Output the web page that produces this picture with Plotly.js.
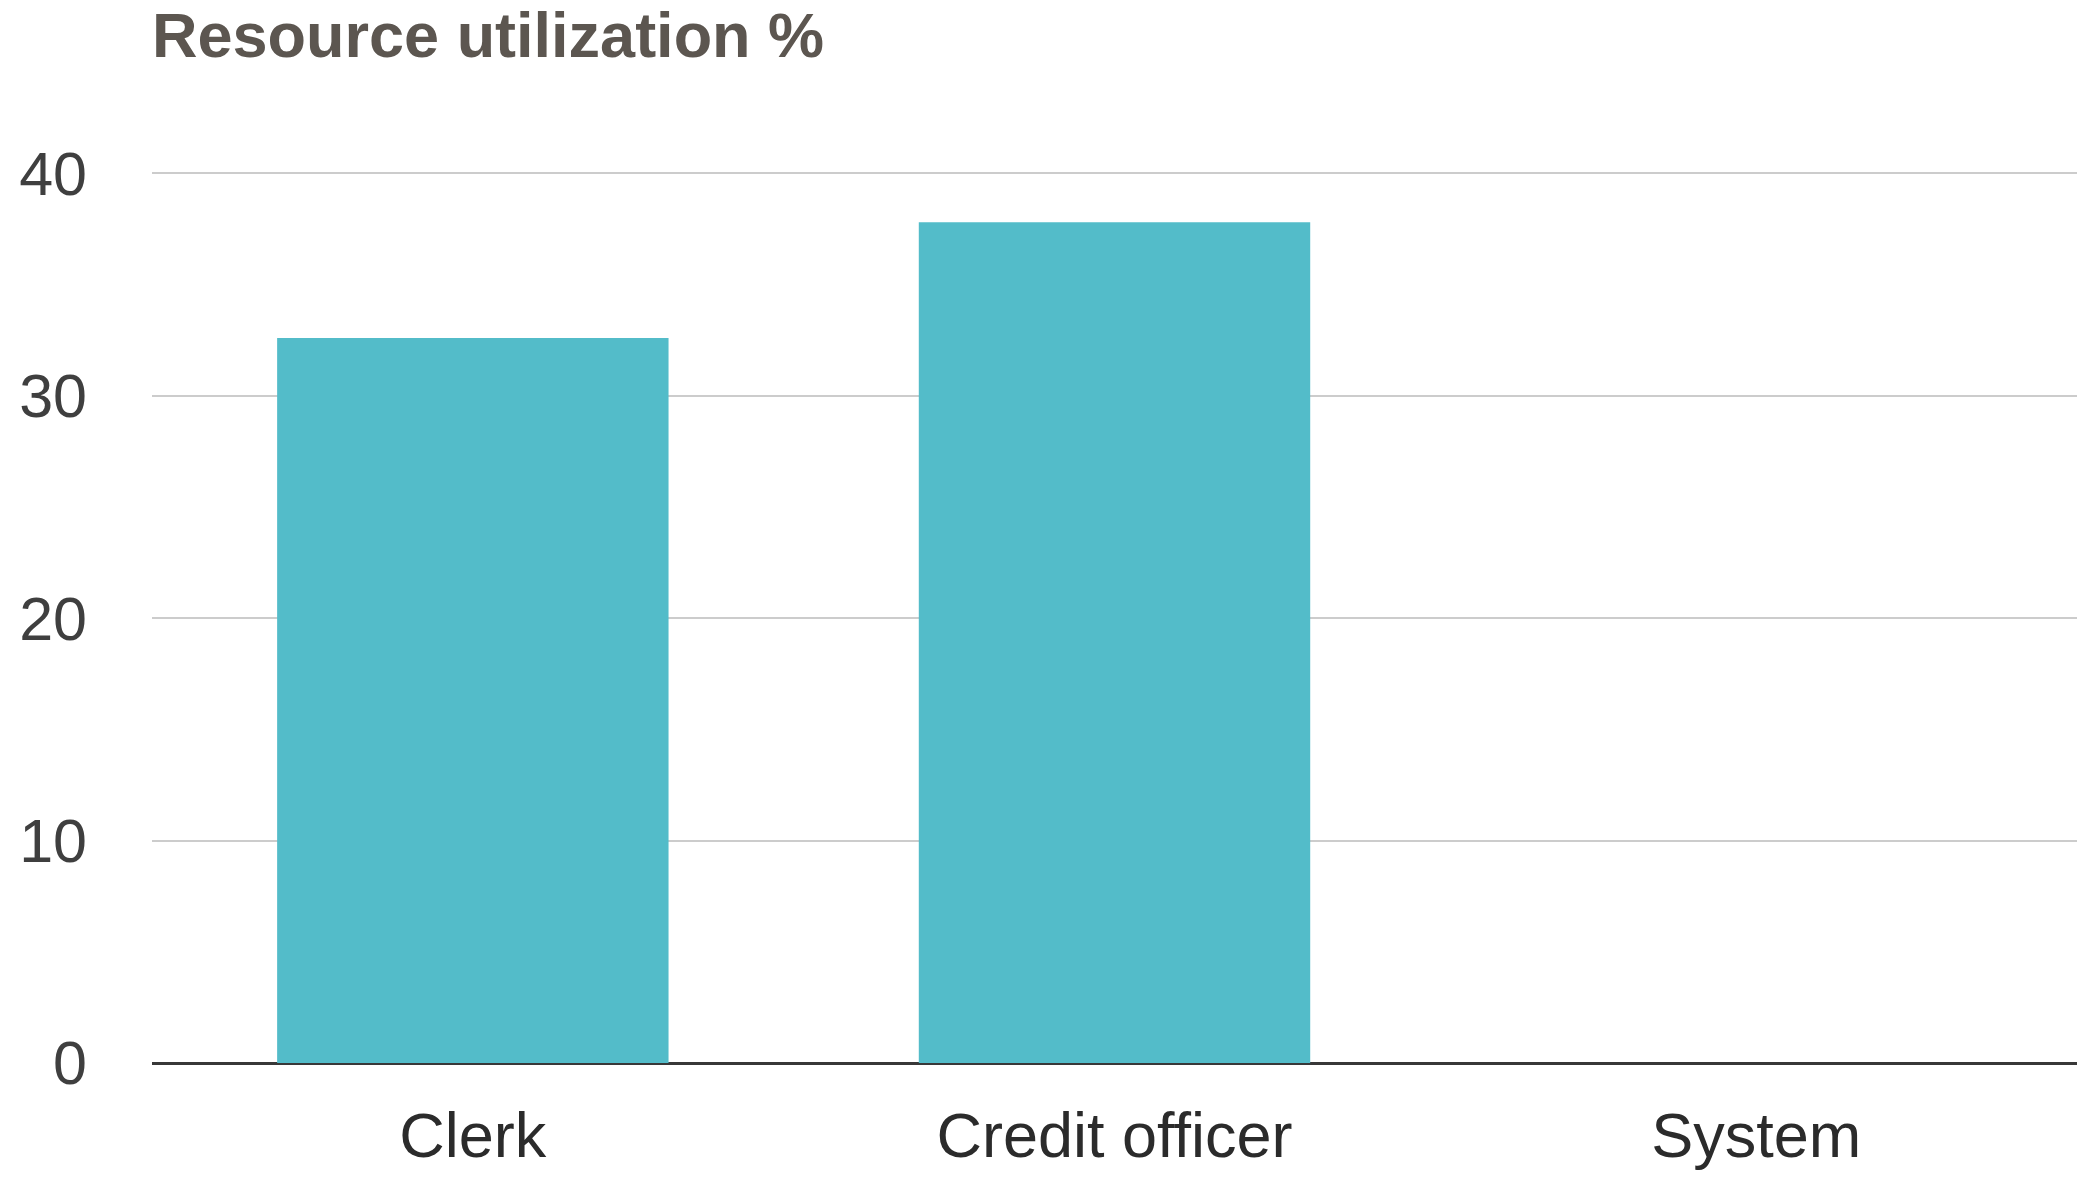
<!DOCTYPE html>
<html>
<head>
<meta charset="utf-8">
<script src="https://cdn.plot.ly/plotly-3.0.1.min.js"></script>
<style>html,body{margin:0;padding:0;background:#fff;}#chart{width:2077px;height:1178px;}</style>
</head>
<body>
<div id="chart"></div>
<script>
const categories = ["Clerk", "Credit officer", "System"];
const utilization = [32.6, 37.8, 0];
const yTicks = [0, 10, 20, 30, 40];
const chartTitle = "Resource utilization %";

const trace = {
  type: "bar",
  x: categories,
  y: utilization,
  marker: {color: "#53bcc9"},
  hoverinfo: "x+y"
};

const layout = {
  width: 2077,
  height: 1178,
  margin: {l: 152, r: 0, t: 169, b: 114.5, pad: 0},
  paper_bgcolor: "#ffffff",
  plot_bgcolor: "#ffffff",
  bargap: 0.39,
  showlegend: false,
  font: {family: "Liberation Sans, Arial, sans-serif"},
  title: {
    text: "<b>" + chartTitle + "</b>",
    font: {size: 63, color: "#5c5650", family: "Liberation Sans, Arial, sans-serif"},
    x: 0, xref: "paper", xanchor: "left",
    y: 1 - 57/1178, yref: "container", yanchor: "bottom"
  },
  xaxis: {
    type: "category",
    range: [-0.5, 2.5],
    showgrid: false,
    showline: false,
    zeroline: false,
    ticks: "",
    tickfont: {size: 63, color: "#2b2b2b"},
    ticklabelstandoff: 30,
    fixedrange: true
  },
  yaxis: {
    range: [0, 40.2],
    tickvals: yTicks,
    ticktext: yTicks.map(String),
    showgrid: true,
    gridcolor: "#cccccc",
    gridwidth: 2,
    zeroline: true,
    zerolinecolor: "#383838",
    zerolinewidth: 3,
    showline: false,
    ticks: "",
    tickfont: {size: 61, color: "#3f3f3f"},
    ticklabelstandoff: 64,
    fixedrange: true
  }
};

Plotly.newPlot("chart", [trace], layout, {displayModeBar: false, staticPlot: true});
</script>
</body>
</html>
